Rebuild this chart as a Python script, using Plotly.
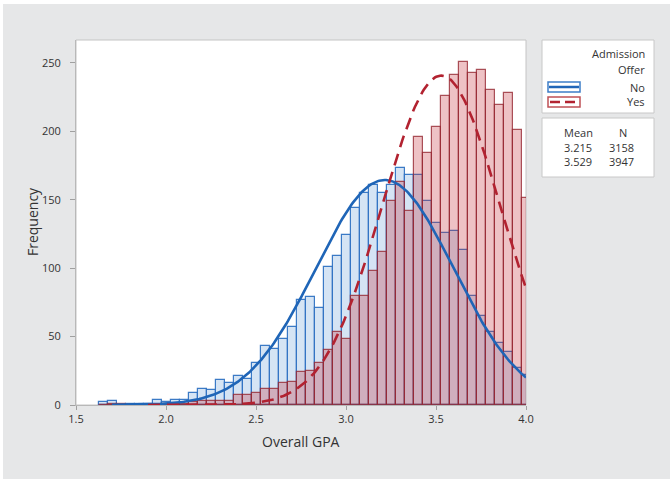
import numpy as np
import plotly.graph_objects as go

# ---------------- data ----------------
bin_centers = [1.65, 1.70, 1.75, 1.80, 1.85, 1.90, 1.95, 2.00, 2.05, 2.10,
               2.15, 2.20, 2.25, 2.30, 2.35, 2.40, 2.45, 2.50, 2.55, 2.60,
               2.65, 2.70, 2.75, 2.80, 2.85, 2.90, 2.95, 3.00, 3.05, 3.10,
               3.15, 3.20, 3.25, 3.30, 3.35, 3.40, 3.45, 3.50, 3.55, 3.60,
               3.65, 3.70, 3.75, 3.80, 3.85, 3.90, 3.95, 4.00]
counts_no = [2, 3, 0, 1, 1, 1, 4, 2, 4, 4,
             9, 12, 11, 18, 16, 21, 19, 31, 43, 41,
             48, 57, 77, 79, 71, 101, 109, 124, 144, 155,
             161, 155, 161, 173, 168, 168, 149, 133, 126, 127,
             113, 80, 65, 53, 45, 39, 27, 22]
counts_yes = [0, 1, 1, 0, 0, 0, 0, 1, 1, 1,
              2, 3, 3, 3, 3, 7, 7, 9, 12, 12,
              16, 17, 24, 25, 31, 40, 53, 48, 80, 80,
              98, 112, 149, 163, 142, 196, 184, 203, 226, 241,
              251, 243, 245, 230, 219, 228, 201, 151]
bin_width = 0.05

groups = ["No", "Yes"]
means = [3.215, 3.529]
ns = [3158, 3947]
stdevs = [0.383, 0.327]   # fitted normal std devs (estimated)
curve_start = [1.70, 1.90]

x_ticks = [1.5, 2.0, 2.5, 3.0, 3.5, 4.0]
x_tick_labels = ["1.5", "2.0", "2.5", "3.0", "3.5", "4.0"]
y_ticks = [0, 50, 100, 150, 200, 250]

# ---------------- layout geometry (pixels) ----------------
W, H = 670, 481
L, R, T, B = 76, 526, 40, 405


def px(x):
    return (x - L) / (R - L)


def py(y):
    return (B - y) / (B - T)


FONT = "Open Sans, Noto Sans, DejaVu Sans, sans-serif"
TXT = "#333333"
BLUE = "rgb(31,101,183)"
RED = "rgb(178,34,48)"

fig = go.Figure()

fig.add_trace(go.Bar(
    x=bin_centers, y=counts_no, width=bin_width,
    marker=dict(color="rgba(150,188,228,0.40)",
                line=dict(color="rgba(50,115,195,0.95)", width=1.2)),
    showlegend=False, name="No", hoverinfo="skip"))
fig.add_trace(go.Bar(
    x=bin_centers, y=counts_yes, width=bin_width,
    marker=dict(color="rgba(195,45,55,0.29)",
                line=dict(color="rgba(150,40,50,0.8)", width=1.2)),
    showlegend=False, name="Yes", hoverinfo="skip"))

# fitted normal curves
for mu, n, sd, x0, col, dash in zip(means, ns, stdevs, curve_start, [BLUE, RED],
                                    ["solid", "12px,7px"]):
    xs = np.linspace(x0, 4.0, 300)
    ys = n * bin_width / (sd * np.sqrt(2 * np.pi)) * np.exp(-0.5 * ((xs - mu) / sd) ** 2)
    fig.add_trace(go.Scatter(x=xs, y=ys, mode="lines",
                             line=dict(color=col, width=2.6, dash=dash),
                             showlegend=False, hoverinfo="skip"))

shapes = [
    # gray page background
    dict(type="rect", xref="paper", yref="paper", x0=px(3), x1=px(670), y0=py(479), y1=py(4),
         fillcolor="#E6E7E8", line=dict(width=0), layer="below"),
    # white plot area with frame
    dict(type="rect", xref="paper", yref="paper", x0=0, x1=1, y0=0, y1=1,
         fillcolor="white", line=dict(color="#C4C4C4", width=1), layer="below"),
    # legend boxes
    dict(type="rect", xref="paper", yref="paper", x0=px(542), x1=px(654), y0=py(113), y1=py(40),
         fillcolor="white", line=dict(color="#C8C8C8", width=1), layer="below"),
    dict(type="rect", xref="paper", yref="paper", x0=px(542), x1=px(654), y0=py(177), y1=py(118),
         fillcolor="white", line=dict(color="#C8C8C8", width=1), layer="below"),
    # legend symbols
    dict(type="rect", xref="paper", yref="paper", x0=px(548), x1=px(580), y0=py(92), y1=py(82),
         fillcolor="white", line=dict(color="rgb(60,125,200)", width=1.5), layer="above"),
    dict(type="line", xref="paper", yref="paper", x0=px(549), x1=px(579), y0=py(87), y1=py(87),
         line=dict(color=BLUE, width=2.5), layer="above"),
    dict(type="rect", xref="paper", yref="paper", x0=px(548), x1=px(580), y0=py(107), y1=py(97),
         fillcolor="white", line=dict(color="rgb(190,80,85)", width=1.5), layer="above"),
    dict(type="line", xref="paper", yref="paper", x0=px(550), x1=px(578), y0=py(102), y1=py(102),
         line=dict(color=RED, width=2.5, dash="10px,5px"), layer="above"),
]

ann = []


def add_text(text, x, y, anchor="center", size=11, angle=0):
    ann.append(dict(text=text, xref="paper", yref="paper", x=px(x), y=py(y),
                    xanchor=anchor, yanchor="middle", showarrow=False, textangle=angle,
                    font=dict(family=FONT, size=size, color=TXT)))


add_text("Admission", 647, 54, "right")
add_text("Offer", 647, 69, "right")
add_text(groups[0], 647, 87, "right")
add_text(groups[1], 647, 102, "right")
add_text("Mean", 578, 132)
add_text("N", 623, 132)
for i, (m, n) in enumerate(zip(means, ns)):
    add_text(f"{m:.3f}", 578, 147 + 14.5 * i)
    add_text(str(n), 621, 147 + 14.5 * i)
add_text("Frequency", 33, 222, size=14, angle=-90)
add_text("Overall GPA", 301, 442, size=14)

fig.update_layout(
    width=W, height=H,
    margin=dict(l=L, r=W - R, t=T, b=H - B, pad=0),
    paper_bgcolor="white", plot_bgcolor="white",
    barmode="overlay", bargap=0,
    shapes=shapes, annotations=ann,
    font=dict(family=FONT, size=11, color=TXT),
    xaxis=dict(range=[1.5, 4.0], tickvals=x_ticks, ticktext=x_tick_labels,
               ticks="outside", ticklen=4, tickcolor="#A0A0A0", showgrid=False,
               zeroline=False, showline=True, linecolor="#B8B8B8", linewidth=1,
               tickfont=dict(family=FONT, size=11, color=TXT)),
    yaxis=dict(range=[0, 266.8], tickvals=y_ticks,
               ticks="outside", ticklen=5, tickcolor="#A0A0A0", showgrid=False,
               zeroline=False, showline=True, linecolor="#B8B8B8", linewidth=1,
               ticklabelstandoff=7,
               tickfont=dict(family=FONT, size=11, color=TXT)),
)

fig.write_html("out.html", config={"displayModeBar": False},
               post_script="document.body.style.margin='0px';document.body.style.overflow='hidden';")
